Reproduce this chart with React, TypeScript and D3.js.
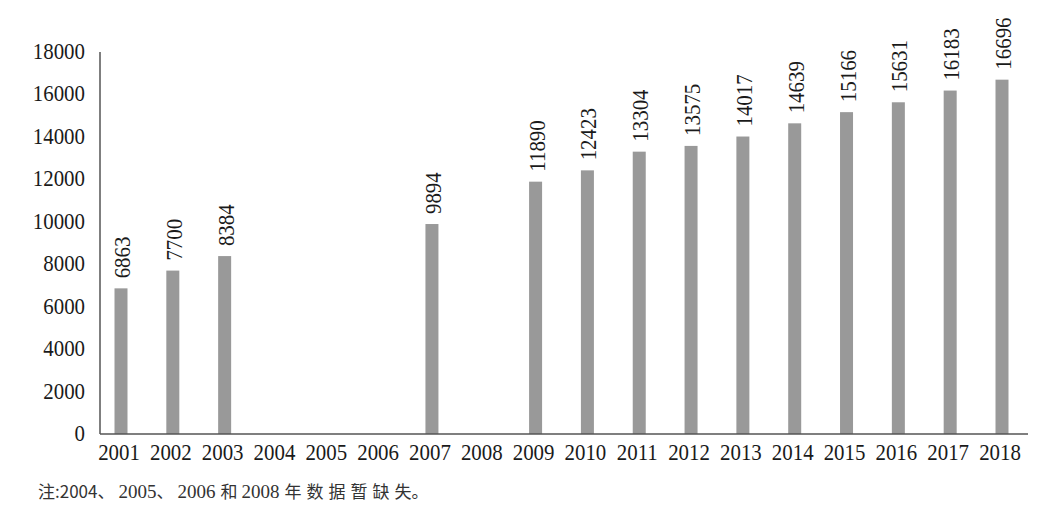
import React from "react";
import * as d3 from "d3";

const years = ["2001","2002","2003","2004","2005","2006","2007","2008","2009","2010","2011","2012","2013","2014","2015","2016","2017","2018"];
const values: (number | null)[] = [6863, 7700, 8384, null, null, null, 9894, null, 11890, 12423, 13304, 13575, 14017, 14639, 15166, 15631, 16183, 16696];
const yTicks = [0, 2000, 4000, 6000, 8000, 10000, 12000, 14000, 16000, 18000];
const note = "注:2004、2005、2006和2008年数据暂缺失。";

const W = 1059, H = 510;
const left = 100, right = 1028, top = 52, bottom = 434;
const serif = "Liberation Serif, Tinos, Times New Roman, DejaVu Serif, serif";
const cjk = "Noto Sans CJK SC, sans-serif";
const SX = 0.87;

export default function App() {
  const x = d3.scalePoint<string>().domain(years).range([121, 1002]);
  const y = d3.scaleLinear().domain([0, 18000]).range([bottom, top]);
  const bw = 13;
  const parts = note.split(/([\u3000-\u303f\u4e00-\u9fff\uff00-\uffef])/).filter(s => s.length > 0);
  return (
    <svg width={W} height={H} style={{ position: "absolute", left: 0, top: 0, background: "#fff" }}>
      <rect x={0} y={0} width={W} height={H} fill="#fff" />
      {years.map((yr, i) => {
        const v = values[i];
        if (v == null) return null;
        const cx = x(yr) as number;
        return (
          <g key={yr}>
            <rect x={cx - bw / 2} y={y(v)} width={bw} height={bottom - y(v)} fill="#999999" />
            <text
              transform={`translate(${cx + 9},${y(v) - 10}) rotate(-90) scale(${SX},1)`}
              style={{ fontFamily: serif }}
              fontSize={24}
              fill="#1a1a1a"
            >{v}</text>
          </g>
        );
      })}
      <line x1={left} x2={left} y1={top} y2={bottom} stroke="#555" strokeWidth={1.5} />
      <line x1={left} x2={right} y1={bottom} y2={bottom} stroke="#555" strokeWidth={1.5} />
      {yTicks.map(t => (
        <text key={t} transform={`translate(85,${y(t) + 7}) scale(${SX},1)`} textAnchor="end" style={{ fontFamily: serif }} fontSize={24} fill="#1a1a1a">{t}</text>
      ))}
      {years.map(yr => (
        <text key={yr} transform={`translate(${(x(yr) as number) - 2},460) scale(${SX},1)`} textAnchor="middle" style={{ fontFamily: serif }} fontSize={24} fill="#1a1a1a">{yr}</text>
      ))}
      <text x={33} y={498} fill="#333">
        {parts.map((p, i) => {
          const isPunct = /[\u3000-\u303f:：]/.test(p);
          const isCjk = /[\u4e00-\u9fff]/.test(p);
          if (isPunct) {
            return <tspan key={i} style={{ fontFamily: cjk }} fontSize={17} dx={p === ":" ? 2 : 0}>{p}</tspan>;
          }
          if (isCjk) {
            return <tspan key={i} style={{ fontFamily: cjk }} fontSize={17} dx={5}>{p}</tspan>;
          }
          return <tspan key={i} style={{ fontFamily: serif }} fontSize={19} dx={p === "2004" ? 1 : 4}>{p}</tspan>;
        })}
      </text>
    </svg>
  );
}
